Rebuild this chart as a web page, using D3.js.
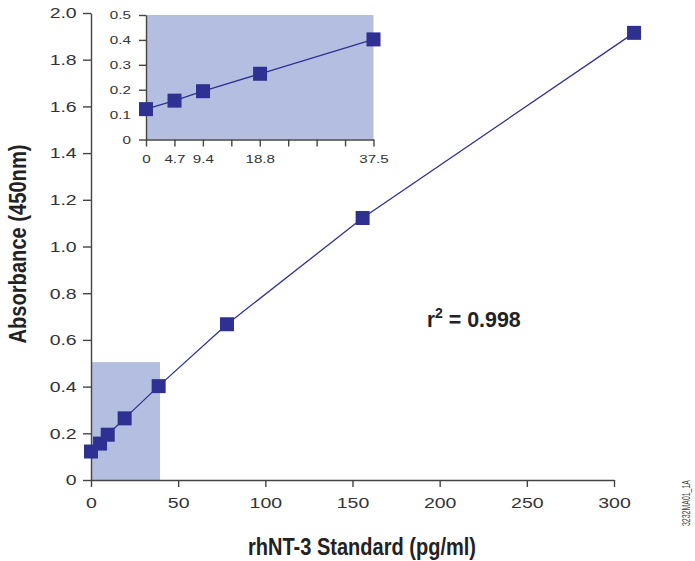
<!DOCTYPE html>
<html lang="en">
<head>
  <meta charset="utf-8">
  <title>rhNT-3 standard curve</title>
  <script src="https://cdn.jsdelivr.net/npm/d3@7"></script>
  <style>
    body { margin: 0; background: #fff; }
    .tick text { fill: #333; font-family: "Liberation Sans", Arial, sans-serif; }
    .domain, .tick line { stroke: #444; stroke-width: 1.4; }
    .title { font-family: "Liberation Sans Narrow", "Liberation Sans", Arial, sans-serif; font-weight: bold; fill: #222; }
  </style>
</head>
<body>
<script>
// standard concentrations (pg/ml) and absorbance readings
var standards = [0, 4.7, 9.4, 18.8, 37.5, 75, 150, 300];
var absorbance = [0.122, 0.156, 0.194, 0.264, 0.402, 0.667, 1.122, 1.915];
// where the points sit on the main x axis
var plottedConc = [0, 5.2, 9.6, 19.3, 38.8, 78, 155.8, 311.5];

var xTicks = [0, 50, 100, 150, 200, 250, 300];
var yTicks = [0, 0.2, 0.4, 0.6, 0.8, 1.0, 1.2, 1.4, 1.6, 1.8, 2.0];
var insetXTicks = [0, 4.6875, 9.375, 14.0625, 18.75, 23.4375, 28.125, 32.8125, 37.5];
var insetXLabels = ["0", "4.7", "9.4", "", "18.8", "", "", "", "37.5"];
var insetYTicks = [0, 0.1, 0.2, 0.3, 0.4, 0.5];
var shadeBox = [39.6, 0.505]; // zoomed region on the main chart

var width = 695, height = 561;
var blue = "#2e3192";
var fillBlue = "#b4bee0";
var fmt = function(d) { return d === 0 ? "0" : d3.format(".1f")(d); };

var svg = d3.select("body").append("svg")
  .attr("width", width)
  .attr("height", height);

// main chart scales
var x = d3.scaleLinear().domain([0, 300]).range([91, 614]);
var y = d3.scaleLinear().domain([0, 2]).range([480, 13]);

// shaded zoom region
svg.append("rect")
  .attr("x", x(0))
  .attr("y", y(shadeBox[1]))
  .attr("width", x(shadeBox[0]) - x(0))
  .attr("height", y(0) - y(shadeBox[1]))
  .attr("fill", fillBlue);

// tick labels in the original are drawn wide, so stretch them sideways
svg.append("g")
  .attr("transform", "translate(0," + y(0) + ")")
  .call(d3.axisBottom(x).tickValues(xTicks).tickSize(7).tickSizeOuter(0).tickPadding(10))
  .selectAll("text")
  .style("font-size", "15px")
  .attr("transform", "scale(1.3,1)");

svg.append("g")
  .attr("transform", "translate(" + x(0) + ",0)")
  .call(d3.axisLeft(y).tickValues(yTicks).tickSize(8).tickSizeOuter(0).tickPadding(3).tickFormat(fmt))
  .selectAll("text")
  .style("font-size", "15px")
  .attr("transform", "scale(1.3,1)");

var pts = standards.map(function(s, i) { return [plottedConc[i], absorbance[i]]; });

svg.append("path")
  .datum(pts)
  .attr("fill", "none")
  .attr("stroke", blue)
  .attr("stroke-width", 1.3)
  .attr("d", d3.line().x(function(d) { return x(d[0]); }).y(function(d) { return y(d[1]); }));

svg.selectAll(".pt")
  .data(pts)
  .enter().append("rect")
  .attr("class", "pt")
  .attr("x", function(d) { return x(d[0]) - 7; })
  .attr("y", function(d) { return y(d[1]) - 7; })
  .attr("width", 14)
  .attr("height", 14)
  .attr("fill", blue);

// inset
var ix = d3.scaleLinear().domain([0, 37.5]).range([146, 373.5]);
var iy = d3.scaleLinear().domain([0, 0.5]).range([139.5, 15]);

svg.append("rect")
  .attr("x", ix(0))
  .attr("y", iy(0.5))
  .attr("width", ix(37.5) - ix(0))
  .attr("height", iy(0) - iy(0.5))
  .attr("fill", fillBlue);

svg.append("g")
  .attr("transform", "translate(0," + iy(0) + ")")
  .call(d3.axisBottom(ix).tickValues(insetXTicks).tickSize(7).tickSizeOuter(0).tickPadding(8)
    .tickFormat(function(d, i) { return insetXLabels[i]; }))
  .selectAll("text")
  .style("font-size", "11.5px")
  .attr("transform", "scale(1.32,1)");

svg.append("g")
  .attr("transform", "translate(" + ix(0) + ",0)")
  .call(d3.axisLeft(iy).tickValues(insetYTicks).tickSize(7).tickSizeOuter(0).tickPadding(4.5).tickFormat(fmt))
  .selectAll("text")
  .style("font-size", "11.5px")
  .attr("transform", "scale(1.32,1)");

var insetPts = standards.map(function(s, i) { return [s, absorbance[i]]; })
  .filter(function(d) { return d[0] <= 37.5; });

svg.append("path")
  .datum(insetPts)
  .attr("fill", "none")
  .attr("stroke", blue)
  .attr("stroke-width", 1.3)
  .attr("d", d3.line().x(function(d) { return ix(d[0]); }).y(function(d) { return iy(d[1]); }));

svg.selectAll(".ipt")
  .data(insetPts)
  .enter().append("rect")
  .attr("class", "ipt")
  .attr("x", function(d) { return ix(d[0]) - 7; })
  .attr("y", function(d) { return iy(d[1]) - 7; })
  .attr("width", 14)
  .attr("height", 14)
  .attr("fill", blue);

// titles, condensed with textLength like the original's narrow bold face
svg.append("text")
  .attr("class", "title")
  .attr("transform", "translate(26,244) rotate(-90)")
  .attr("text-anchor", "middle")
  .attr("textLength", 199)
  .attr("lengthAdjust", "spacingAndGlyphs")
  .style("font-size", "23px")
  .text("Absorbance (450nm)");

svg.append("text")
  .attr("class", "title")
  .attr("x", 362)
  .attr("y", 555)
  .attr("text-anchor", "middle")
  .attr("textLength", 228)
  .attr("lengthAdjust", "spacingAndGlyphs")
  .style("font-size", "23px")
  .text("rhNT-3 Standard (pg/ml)");

var r2 = svg.append("text")
  .attr("class", "title")
  .attr("x", 427)
  .attr("y", 327)
  .style("font-size", "22px");
r2.append("tspan").attr("textLength", 8).attr("lengthAdjust", "spacingAndGlyphs").text("r");
r2.append("tspan").attr("dy", -9).style("font-size", "14px").text("2");
r2.append("tspan").attr("dy", 9).attr("textLength", 78).attr("lengthAdjust", "spacingAndGlyphs").text(" = 0.998");

svg.append("text")
  .attr("transform", "translate(690,503) rotate(-90)")
  .attr("text-anchor", "middle")
  .attr("textLength", 46)
  .attr("lengthAdjust", "spacingAndGlyphs")
  .style("font-family", "Liberation Sans, Arial, sans-serif")
  .style("font-size", "10.5px")
  .attr("fill", "#444")
  .text("3232MA01_1A");
</script>
</body>
</html>
